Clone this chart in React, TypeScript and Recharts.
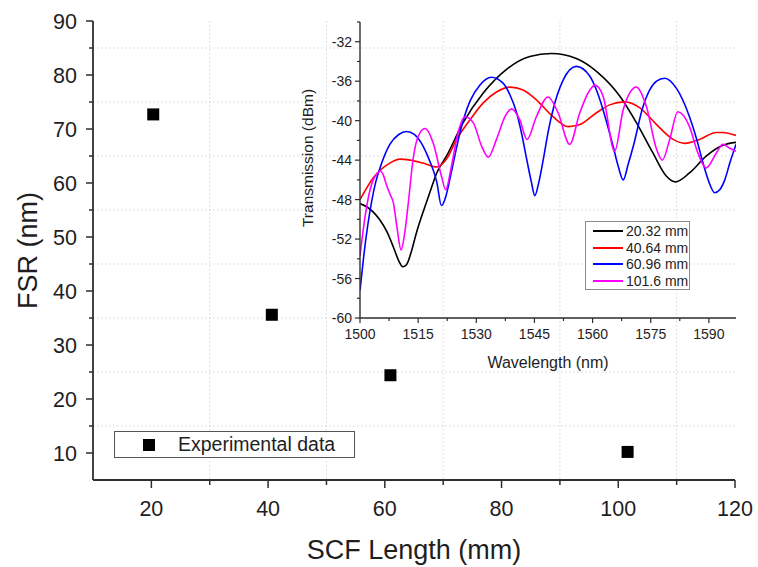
import {
  CartesianGrid,
  Line,
  LineChart,
  Scatter,
  ScatterChart,
  XAxis,
  YAxis
} from 'recharts';

const FONT = '"Liberation Sans", Arial, Helvetica, sans-serif';
const AXIS = '#2e2e2e';
const TEXT = '#1e1e1e';

// main plot: FSR against SCF length
const scfLength = [20.32, 40.64, 60.96, 101.6];
const fsr = [72.7, 35.6, 24.4, 10.2];

const lengthTicks = [20, 30, 40, 50, 60, 70, 80, 90, 100, 110, 120];
const fsrTicks = [10, 15, 20, 25, 30, 35, 40, 45, 50, 55, 60, 65, 70, 75, 80, 85, 90];
const lengthGrid = [30, 50, 70, 90, 110];
const fsrGrid = [15, 25, 35, 45, 55, 65, 75, 85];

// inset: transmission spectra
const wavelengthTicks = [
  1500, 1507.5, 1515, 1522.5, 1530, 1537.5, 1545, 1552.5, 1560, 1567.5, 1575,
  1582.5, 1590
];
const transmissionTicks = [
  -60, -58, -56, -54, -52, -50, -48, -46, -44, -42, -40, -38, -36, -34, -32, -30
];

const seriesNames = ['20.32 mm', '40.64 mm', '60.96 mm', '101.6 mm'];
const seriesColors = ['#000000', '#ff0000', '#0000ff', '#ff00ff'];

const wl20 = [
  1500, 1502, 1503.5, 1505, 1507, 1508.6, 1510, 1511, 1512, 1513, 1514.6, 1516.5,
  1518, 1519.8, 1522.3, 1526.6, 1531.8, 1537.8, 1543.8, 1549.4, 1555.8, 1561,
  1567, 1571.3, 1575.6, 1579, 1581.4, 1585, 1589.3, 1593.6, 1597
];
const tr20 = [
  -48.4, -48.8, -49.3, -50.0, -51.3, -52.8, -54.2, -54.8, -54.6, -53.6, -51.3,
  -49.0, -47.3, -45.3, -43.6, -40.2, -37.2, -34.8, -33.5, -33.2, -33.7, -35.0,
  -37.5, -40.2, -43.3, -45.6, -46.2, -45.3, -43.6, -42.5, -42.2
];

const wl40 = [
  1500, 1503.4, 1507.7, 1510.3, 1513, 1516.3, 1519.8, 1522.3, 1524.9, 1528.4,
  1531.8, 1535.2, 1538.7, 1542.1, 1545.5, 1549.8, 1553.7, 1556.7, 1561, 1564.4,
  1568.3, 1572.2, 1576.5, 1580.8, 1583.8, 1587.6, 1591.9, 1593.6, 1597
];
const tr40 = [
  -48.0, -45.8, -44.3, -43.9, -44.0, -44.3, -44.7, -43.9, -41.9, -39.9, -38.2,
  -37.1, -36.6, -36.9, -37.9, -39.6, -40.6, -40.4, -39.2, -38.4, -38.1, -38.7,
  -40.4, -41.9, -42.3, -41.9, -41.2, -41.2, -41.5
];

const wl60 = [
  1500, 1501, 1502, 1503, 1504, 1505.5, 1507.7, 1510, 1512, 1514, 1516.3, 1518,
  1519.8, 1521, 1522.2, 1523.2, 1524.5, 1525.8, 1527, 1528.4, 1530.9, 1533.9,
  1536.9, 1538.7, 1540.4, 1541.8, 1543, 1544.2, 1545.1, 1546.1, 1547.3, 1548.6,
  1549.8, 1552.4, 1555.8, 1559.3, 1561, 1562.7, 1564, 1565.3, 1566.6, 1567.9,
  1569.2, 1570.5, 1573, 1576.5, 1578.6, 1581.6, 1585, 1586.8, 1588.5, 1590,
  1591.5, 1592.8, 1594.1, 1595.4, 1597
];
const tr60 = [
  -57.2, -53.6, -50.6, -48.2, -46.3, -44.4, -42.4, -41.4, -41.1, -41.4, -42.6,
  -44.1, -46.2, -48.6, -47.6, -45.9, -43.5, -41.2, -39.5, -38.0, -36.4, -35.6,
  -36.2, -37.4, -39.2, -41.5, -43.9, -46.2, -47.6, -46.3, -43.9, -41.0, -38.9,
  -35.9, -34.5, -35.5, -36.9, -38.9, -40.7, -42.6, -44.6, -46.0, -44.4, -42.6,
  -38.6, -36.0, -35.7, -36.7, -39.6, -41.8, -44.3, -46.2, -47.3, -47.0, -46.0,
  -44.3, -42.4
];

const wl101 = [
  1500, 1501.2, 1502.6, 1503.4, 1504.3, 1505.2, 1506, 1506.9, 1507.8, 1508.6,
  1509.6, 1510.6, 1511.6, 1512.5, 1513.7, 1515, 1516.8, 1518.9, 1521, 1522.1,
  1523.6, 1525.3, 1527.1, 1529.2, 1531.4, 1533.1, 1535.2, 1537.4, 1539.1, 1541.2,
  1543.1, 1545.5, 1548.5, 1551.1, 1554.1, 1556.7, 1559.3, 1560.6, 1562.7, 1565.7,
  1567.9, 1571.3, 1573.9, 1576.5, 1578, 1579.9, 1582, 1585, 1587.2, 1589.3,
  1591.9, 1593.6, 1595.4, 1597
];
const tr101 = [
  -53.7, -50.0, -47.0, -46.0, -45.4, -45.1, -45.5, -46.6, -47.5, -48.3, -51.0,
  -53.1, -51.2, -48.2, -43.9, -41.6, -40.8, -42.3, -45.6, -47.0, -44.6, -41.2,
  -39.6, -40.2, -42.6, -43.7, -41.9, -39.6, -38.8, -39.9, -41.9, -39.6, -37.6,
  -39.2, -42.4, -39.2, -36.9, -36.4, -37.5, -43.1, -38.9, -36.6, -38.6, -42.9,
  -44.0, -41.9, -39.1, -40.6, -43.3, -44.8, -43.3, -42.4, -42.8, -43.1
];

const fsrPoints = scfLength.map((x, i) => ({ x, y: fsr[i] }));

const zip = (wl: number[], tr: number[]) => wl.map((w, i) => ({ wl: w, tr: tr[i] }));
const spectra = [zip(wl20, tr20), zip(wl40, tr40), zip(wl60, tr60), zip(wl101, tr101)].map(
  (points, i) => ({ name: seriesNames[i], color: seriesColors[i], points })
);

const LengthTick = (props: any) => {
  const { x, y, payload } = props;
  const major = payload.value % 20 === 0;
  return (
    <g>
      <line x1={x} x2={x} y1={y} y2={y + (major ? 8 : 5)} stroke={AXIS} strokeWidth={1.5} />
      {major && (
        <text x={x} y={y + 36} textAnchor="middle" fontSize={21.5} fill={TEXT}>
          {payload.value}
        </text>
      )}
    </g>
  );
};

const FsrTick = (props: any) => {
  const { x, y, payload } = props;
  const major = payload.value % 10 === 0;
  return (
    <g>
      <line x1={x - (major ? 7 : 4)} x2={x} y1={y} y2={y} stroke={AXIS} strokeWidth={1.5} />
      {major && (
        <text x={x - 16} y={y + 8} textAnchor="end" fontSize={21.5} fill={TEXT}>
          {payload.value}
        </text>
      )}
    </g>
  );
};

const WavelengthTick = (props: any) => {
  const { x, y, payload } = props;
  const major = (payload.value - 1500) % 15 === 0;
  return (
    <g>
      <line x1={x} x2={x} y1={y} y2={y + (major ? 5 : 3)} stroke={AXIS} strokeWidth={1.2} />
      {major && (
        <text x={x} y={y + 21} textAnchor="middle" fontSize={14} fill={TEXT}>
          {payload.value}
        </text>
      )}
    </g>
  );
};

const TransmissionTick = (props: any) => {
  const { x, y, payload } = props;
  const major = (payload.value + 60) % 4 === 0;
  return (
    <g>
      <line x1={x - (major ? 5 : 3)} x2={x} y1={y} y2={y} stroke={AXIS} strokeWidth={1.2} />
      {major && (
        <text x={x - 8} y={y + 5} textAnchor="end" fontSize={14} fill={TEXT}>
          {payload.value}
        </text>
      )}
    </g>
  );
};

const TransmissionTitle = (props: any) => {
  const vb = props.viewBox ?? { x: 0, y: 22 };
  const cx = vb.x + 17;
  const cy = vb.y + 136;
  return (
    <text
      x={cx}
      y={cy}
      transform={`rotate(-90 ${cx} ${cy})`}
      textAnchor="middle"
      dominantBaseline="central"
      fontSize={15.5}
      fill={TEXT}
    >
      Transmission (dBm)
    </text>
  );
};

const square = (props: any) => (
  <rect x={props.cx - 6} y={props.cy - 6} width={12} height={12} fill="#000" />
);

export default function App() {
  const axisLine = { stroke: AXIS, strokeWidth: 1.8 };
  const insetAxisLine = { stroke: AXIS, strokeWidth: 1.4 };
  return (
    <div
      style={{
        position: 'absolute',
        left: 0,
        top: 0,
        width: 758,
        height: 567,
        background: '#fff',
        fontFamily: FONT
      }}
    >
      <ScatterChart width={758} height={567} margin={{ top: 21, right: 23, bottom: 0, left: 0 }}>
        <CartesianGrid
          horizontalValues={fsrGrid}
          verticalValues={lengthGrid}
          stroke="#d6d6d6"
          strokeWidth={1}
          strokeDasharray="1.5 2.5"
        />
        <XAxis
          type="number"
          dataKey="x"
          domain={[10, 120]}
          ticks={lengthTicks}
          interval={0}
          height={87}
          tickSize={0}
          tickMargin={0}
          tickLine={false}
          tick={<LengthTick />}
          axisLine={axisLine}
          allowDataOverflow
          label={{
            value: 'SCF Length (mm)',
            position: 'insideBottom',
            offset: 8,
            fontSize: 27,
            fill: TEXT
          }}
        />
        <XAxis
          xAxisId="top"
          orientation="top"
          type="number"
          domain={[10, 120]}
          height={0}
          tick={false}
          tickLine={false}
          axisLine={axisLine}
        />
        <YAxis
          type="number"
          dataKey="y"
          domain={[5, 90]}
          ticks={fsrTicks}
          interval={0}
          width={93}
          tickSize={0}
          tickMargin={0}
          tickLine={false}
          tick={<FsrTick />}
          axisLine={axisLine}
          allowDataOverflow
          label={{
            value: 'FSR (nm)',
            angle: -90,
            position: 'insideLeft',
            offset: 27,
            fontSize: 27,
            fill: TEXT,
            style: { textAnchor: 'middle' }
          }}
        />
        <YAxis
          yAxisId="right"
          orientation="right"
          type="number"
          domain={[5, 90]}
          width={0}
          tick={false}
          tickLine={false}
          axisLine={axisLine}
        />
        <Scatter data={fsrPoints} fill="#000" shape={square} isAnimationActive={false} />
      </ScatterChart>

      <div style={{ position: 'absolute', left: 290, top: 0 }}>
        <LineChart width={468} height={380} margin={{ top: 22, right: 22, bottom: 0, left: 0 }}>
          <XAxis
            type="number"
            dataKey="wl"
            domain={[1500, 1597]}
            ticks={wavelengthTicks}
            interval={0}
            height={62}
            tickSize={0}
            tickMargin={0}
            tickLine={false}
            tick={<WavelengthTick />}
            axisLine={insetAxisLine}
            allowDataOverflow
            label={{
              value: 'Wavelength (nm)',
              position: 'insideBottom',
              offset: 12,
              fontSize: 16,
              fill: TEXT
            }}
          />
          <YAxis
            type="number"
            dataKey="tr"
            domain={[-60, -30]}
            ticks={transmissionTicks}
            interval={0}
            width={70}
            tickSize={0}
            tickMargin={0}
            tickLine={false}
            tick={<TransmissionTick />}
            axisLine={insetAxisLine}
            allowDataOverflow
            label={TransmissionTitle}
          />
          {spectra.map((s) => (
            <Line
              key={s.name}
              name={s.name}
              data={s.points}
              dataKey="tr"
              type="monotone"
              stroke={s.color}
              strokeWidth={1.6}
              dot={false}
              activeDot={false}
              isAnimationActive={false}
            />
          ))}
        </LineChart>
      </div>

      <div
        style={{
          position: 'absolute',
          left: 585,
          top: 221,
          width: 103,
          height: 66,
          border: '1px solid #8a8a8a',
          background: '#fff',
          boxSizing: 'content-box',
          paddingTop: 1
        }}
      >
        {spectra.map((s) => (
          <div
            key={s.name}
            style={{ display: 'flex', alignItems: 'center', height: 16.6, fontSize: 14, color: TEXT }}
          >
            <span
              style={{ display: 'inline-block', width: 30, height: 2, background: s.color, marginLeft: 7, marginRight: 3 }}
            />
            {s.name}
          </div>
        ))}
      </div>

      <div
        style={{
          position: 'absolute',
          left: 114,
          top: 431,
          width: 239,
          height: 25,
          border: '1px solid #555',
          background: '#fff',
          display: 'flex',
          alignItems: 'center',
          fontSize: 19.5,
          color: TEXT
        }}
      >
        <span style={{ display: 'inline-block', width: 12, height: 12, background: '#000', marginLeft: 28, marginRight: 23 }} />
        Experimental data
      </div>
    </div>
  );
}
